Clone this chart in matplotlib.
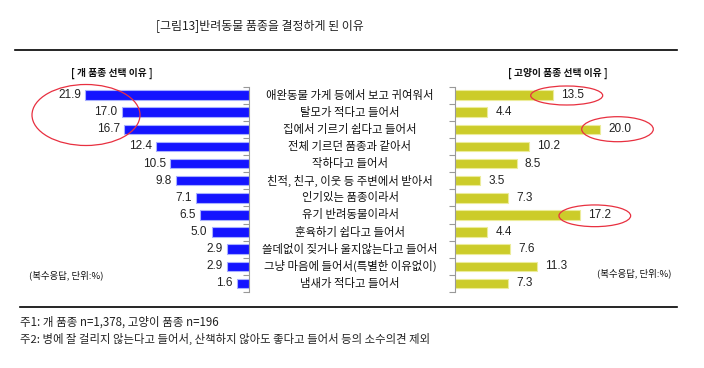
import matplotlib
matplotlib.use("Agg")
import matplotlib.pyplot as plt
from matplotlib.patches import Ellipse
from matplotlib.lines import Line2D

plt.rcParams['font.family'] = ['Noto Sans CJK KR', 'DejaVu Sans']

# data
reasons = ["애완동물 가게 등에서 보고 귀여워서", "탈모가 적다고 들어서", "집에서 기르기 쉽다고 들어서",
           "전체 기르던 품종과 같아서", "작하다고 들어서", "친적, 친구, 이웃 등 주변에서 받아서",
           "인기있는 품종이라서", "유기 반려동물이라서", "훈육하기 쉽다고 들어서",
           "쓸데없이 짖거나 울지않는다고 들어서", "그냥 마음에 들어서(특별한 이유없이)", "냄새가 적다고 들어서"]
dog = [21.9, 17.0, 16.7, 12.4, 10.5, 9.8, 7.1, 6.5, 5.0, 2.9, 2.9, 1.6]
cat = [13.5, 4.4, 20.0, 10.2, 8.5, 3.5, 7.3, 17.2, 4.4, 7.6, 11.3, 7.3]

W, H = 704, 368
fig = plt.figure(figsize=(W / 100, H / 100), dpi=100)
fig.patch.set_facecolor("white")


def fx(px):
    return px / W


def fy(py):
    return 1 - py / H


top_px, bot_px = 86.5, 292
ypos = list(range(len(reasons)))
bounds = [i - 0.5 for i in range(len(reasons) + 1)]

# left: dog
axl = fig.add_axes([fx(20), fy(bot_px), fx(249) - fx(20), fy(top_px) - fy(bot_px)])
axl.barh(ypos, dog, height=0.55, color="#1414ff", edgecolor="#a8b0ff", linewidth=0.8)
axl.set_xlim(30.6, 0)
axl.set_ylim(len(reasons) - 0.5, -0.5)
for s in ["left", "top", "bottom"]:
    axl.spines[s].set_visible(False)
axl.spines["right"].set_color("#999999")
axl.yaxis.tick_right()
axl.set_yticks(bounds)
axl.set_yticklabels([])
axl.tick_params(axis="y", direction="in", length=4, color="#999999", right=True, left=False)
axl.set_xticks([])
for y, v in zip(ypos, dog):
    axl.annotate(f"{v:.1f}", (v, y), xytext=(-3, 0), textcoords="offset points",
                 ha="right", va="center", fontsize=8.5, family="Liberation Sans", color="#222222")

# right: cat
axr = fig.add_axes([fx(455), fy(bot_px), fx(690) - fx(455), fy(top_px) - fy(bot_px)])
axr.barh(ypos, cat, height=0.55, color="#cccc2a", edgecolor="#ecec9a", linewidth=0.8)
axr.set_xlim(0, 32.4)
axr.set_ylim(len(reasons) - 0.5, -0.5)
for s in ["right", "top", "bottom"]:
    axr.spines[s].set_visible(False)
axr.spines["left"].set_color("#999999")
axr.set_yticks(bounds)
axr.set_yticklabels([])
axr.tick_params(axis="y", direction="out", length=4, color="#999999")
axr.set_xticks([])
for y, v in zip(ypos, cat):
    axr.annotate(f"{v:.1f}", (v, y), xytext=(6, 0), textcoords="offset points",
                 ha="left", va="center", fontsize=8.5, family="Liberation Sans", color="#222222")

# category labels in the middle column
for y, lab in zip(ypos, reasons):
    disp = axl.transData.transform((0, y))
    yfig = fig.transFigure.inverted().transform(disp)[1]
    fig.text(fx(350), yfig, lab, ha="center", va="center", fontsize=8.2, color="#111111")

# titles and notes
fig.text(fx(260), fy(26), "[그림13]반려동물 품종을 결정하게 된 이유", ha="center", va="center",
         fontsize=8.6, color="#222222")
fig.add_artist(Line2D([fx(15), fx(677)], [fy(50), fy(50)], color="black", lw=1.2))
fig.text(fx(111.5), fy(73), "[ 개 품종 선택 이유 ]", ha="center", va="center", fontsize=7,
         fontweight="bold", color="#111111")
fig.text(fx(557.5), fy(73), "[ 고양이 품종 선택 이유 ]", ha="center", va="center", fontsize=7,
         fontweight="bold", color="#111111")
fig.text(fx(29), fy(275), "(복수응답, 단위:%)", ha="left", va="center", fontsize=6.8, color="#111111")
fig.text(fx(597), fy(273), "(복수응답, 단위:%)", ha="left", va="center", fontsize=6.8, color="#111111")

fig.add_artist(Line2D([fx(20), fx(677)], [fy(307), fy(307)], color="black", lw=1.2))
fig.text(fx(20), fy(322), "주1: 개 품종 n=1,378, 고양이 품종 n=196", ha="left", va="center",
         fontsize=8.3, color="#222222")
fig.text(fx(20), fy(339), "주2: 병에 잘 걸리지 않는다고 들어서, 산책하지 않아도 좋다고 들어서 등의 소수의견 제외",
         ha="left", va="center", fontsize=8.2, color="#222222")

# red ellipses
for cx, cy, w, h in [(86, 115, 108, 61), (566.7, 95.5, 72, 19),
                     (617.5, 129.2, 71.6, 25), (594.8, 215.8, 71.7, 21.7)]:
    fig.add_artist(Ellipse((fx(cx), fy(cy)), w / W, h / H, transform=fig.transFigure,
                           fill=False, edgecolor="#e83040", lw=0.9))

fig.savefig("out.png", dpi=100)
